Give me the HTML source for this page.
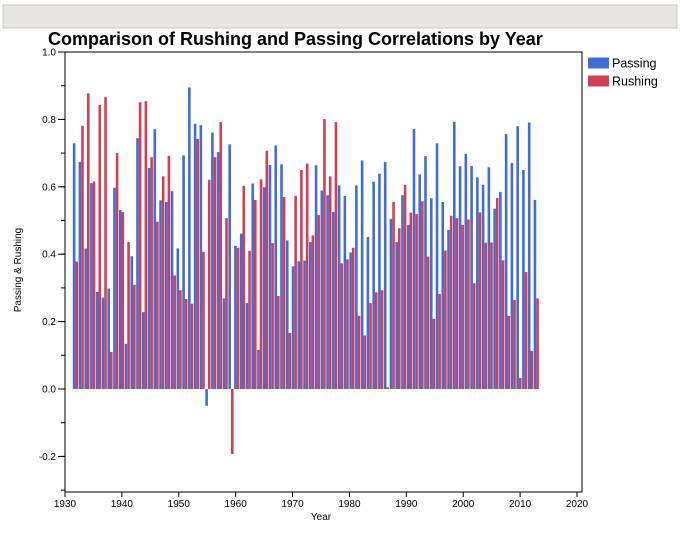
<!DOCTYPE html>
<html><head><meta charset="utf-8"><style>
body{margin:0;background:#fff;width:680px;height:530px;overflow:hidden;font-family:"Liberation Sans",sans-serif}
</style></head><body>
<svg width="680" height="530" xmlns="http://www.w3.org/2000/svg">
<rect x="3" y="5" width="674" height="23" fill="#e8e8e1" stroke="#c8c8c0"/>
<text x="48" y="45" font-size="18" font-weight="bold" fill="#000">Comparison of Rushing and Passing Correlations by Year</text>
<rect x="65" y="52" width="517" height="440" fill="none" stroke="#000" stroke-width="1"/>
<g id="axes"></g>
<g id="bars"></g>
<text x="321" y="520" font-size="10" text-anchor="middle">Year</text>
<text x="21" y="270" font-size="10" text-anchor="middle" transform="rotate(-90 21 270)">Passing &amp; Rushing</text>
<rect x="588" y="57.5" width="21" height="11" fill="#416ed6"/>
<text x="612" y="67.5" font-size="12.5">Passing</text>
<rect x="588" y="75.5" width="21" height="11" fill="#d23f55"/>
<text x="612" y="85.5" font-size="12.5">Rushing</text>
</svg>
<script>
const firstYear = 1932;
const passing = [0.729,0.674,0.417,0.611,0.288,0.271,0.298,0.597,0.531,0.134,0.394,0.744,0.228,0.656,0.771,0.560,0.555,0.587,0.417,0.693,
0.895,0.787,0.783,-0.050,0.761,0.703,0.269,0.726,0.425,0.461,0.255,0.610,0.116,0.599,0.665,0.723,0.667,0.441,0.364,0.379,
0.381,0.436,0.664,0.589,0.575,0.525,0.604,0.573,0.405,0.604,0.678,0.451,0.615,0.639,0.674,0.505,0.436,0.575,0.487,0.772,0.637,
0.691,0.566,0.729,0.555,0.472,0.793,0.661,0.698,0.662,0.628,0.606,0.658,0.535,0.585,0.757,0.671,0.780,0.650,0.791,0.561];
const rushing = [0.378,0.781,0.877,0.616,0.843,0.866,0.110,0.700,0.525,0.436,0.309,0.851,0.854,0.688,0.496,0.631,0.692,0.337,0.293,0.267,
0.253,0.742,0.407,0.621,0.688,0.792,0.507,-0.193,0.419,0.603,0.410,0.561,0.622,0.707,0.433,0.276,0.570,0.166,0.573,0.650,
0.669,0.456,0.516,0.801,0.631,0.792,0.373,0.385,0.419,0.217,0.159,0.255,0.287,0.293,0.005,0.555,0.477,0.606,0.523,0.519,0.557,
0.393,0.208,0.282,0.411,0.514,0.507,0.487,0.503,0.314,0.524,0.434,0.435,0.567,0.382,0.217,0.264,0.033,0.347,0.113,0.269];
const xTicks = [1930,1940,1950,1960,1970,1980,1990,2000,2010,2020];
const yTicks = [1.0,0.8,0.6,0.4,0.2,0.0,-0.2];
const yTickLabels = ["1.0","0.8","0.6","0.4","0.2","0.0","-0.2"];
const NS="http://www.w3.org/2000/svg";
const xs = y => 65 + (y-1930)*512/90;
const xb = y => 65 + (y-1930.5)*5.76;
const ys = v => 389 - v*337;
function mk(t,a,p){const e=document.createElementNS(NS,t);for(const k in a)e.setAttribute(k,a[k]);p.appendChild(e);return e;}
const ax=document.getElementById('axes');
xTicks.forEach(t=>{
  const l=mk('line',{x1:xs(t),x2:xs(t),y1:492,y2:497,stroke:'#000'},ax);
  
  
  const tx=mk('text',{x:xs(t),y:507,'font-size':10,'text-anchor':'middle'},ax);tx.textContent=t;
  
  
});
for(let v=-0.3;v<=1.0001;v+=0.1){
  const l=mk('line',{x1:61,x2:65,y1:ys(v),y2:ys(v),stroke:'#000'},ax);
  
  
}
yTicks.forEach((t,i)=>{
  const l=mk('line',{x1:58,x2:65,y1:ys(t),y2:ys(t),stroke:'#000'},ax);
  
  
  const tx=mk('text',{x:56,y:ys(t)+3.5,'font-size':10,'text-anchor':'end'},ax);tx.textContent=yTickLabels[i];
  
  
});
const bg=document.getElementById('bars');
passing.forEach((v,i)=>{
  const c=xb(firstYear+i);
  const r=mk('rect',{x:c-0.8,y:Math.min(ys(v),ys(0)),width:2.6,height:Math.abs(ys(v)-ys(0)),fill:'#416ed6'},bg);
  
  
});
rushing.forEach((v,i)=>{
  const c=xb(firstYear+i);
  const r=mk('rect',{x:c+1.8,y:Math.min(ys(v),ys(0)),width:2.6,height:Math.abs(ys(v)-ys(0)),fill:'#d23f55'},bg);
  
  
});
</script>
</body></html>
